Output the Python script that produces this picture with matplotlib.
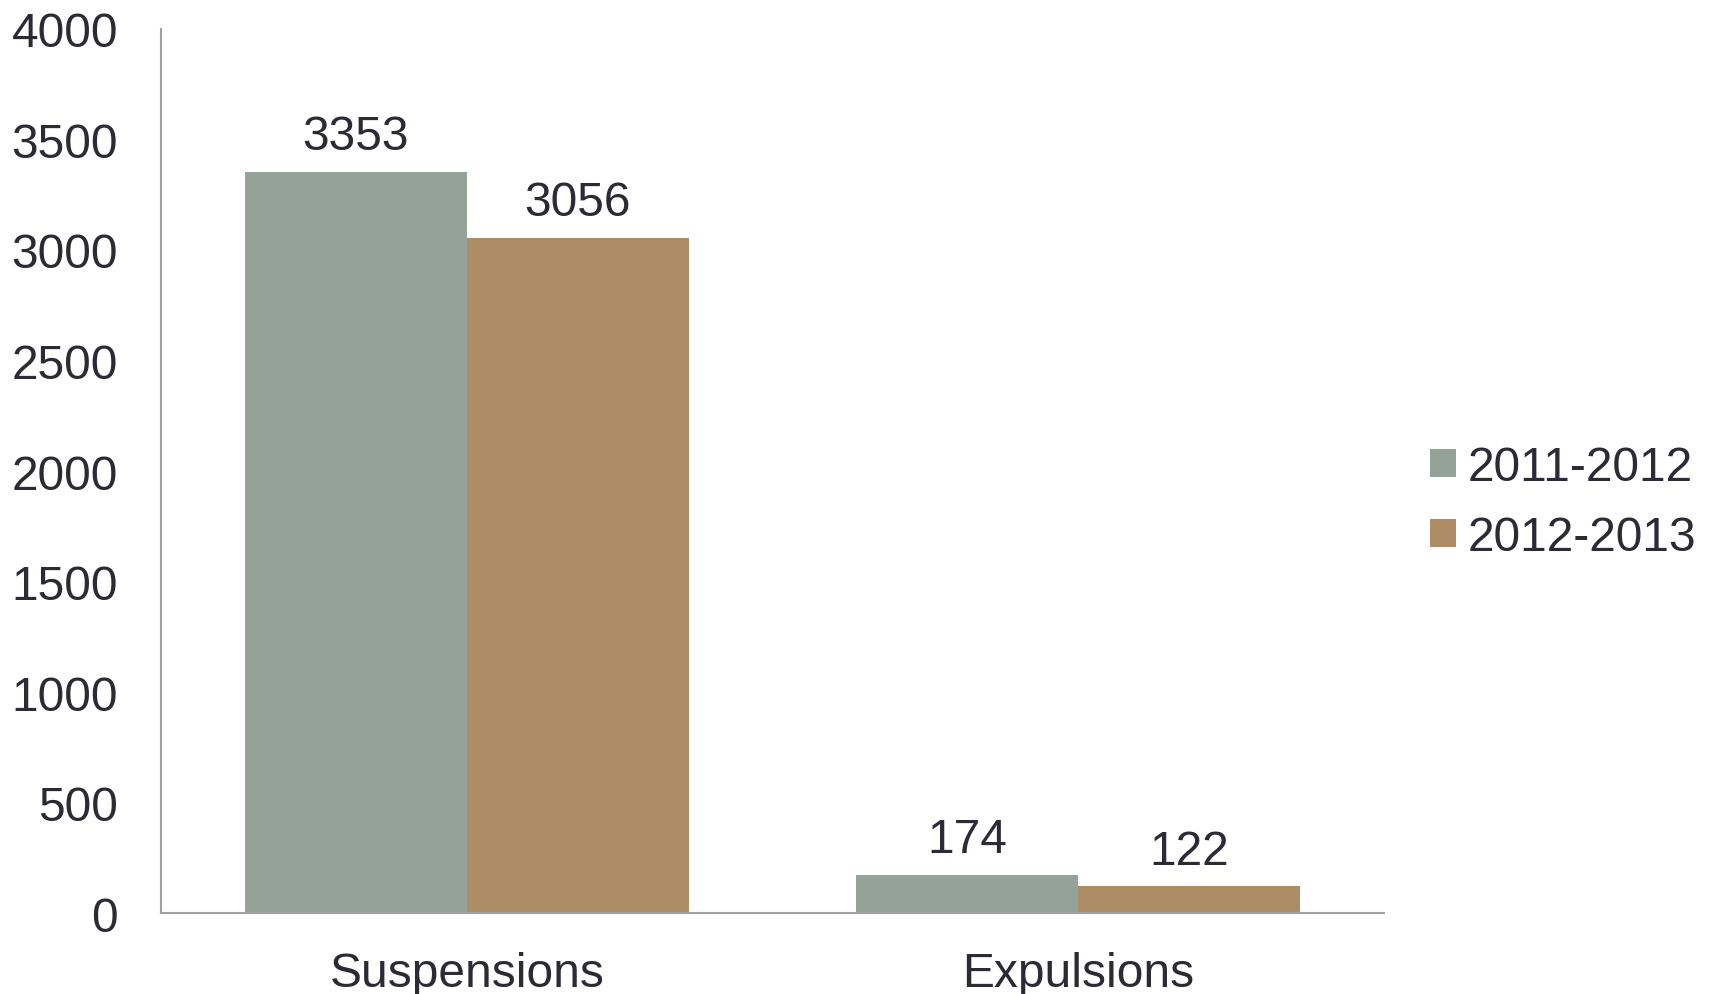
import numpy as np
import matplotlib.pyplot as plt

plt.rcParams['font.family'] = ['Liberation Sans', 'DejaVu Sans']

categories = ['Suspensions', 'Expulsions']
series_names = ['2011-2012', '2012-2013']
vals_2011 = [3353, 174]
vals_2012 = [3056, 122]
yticks = [0, 500, 1000, 1500, 2000, 2500, 3000, 3500, 4000]

green = '#93a39a'
brown = '#ac8d66'
txt = '#2b2b35'
axcol = '#a0a0a0'
fs = 34.5

fig = plt.figure(figsize=(17.15, 9.95), dpi=100)
ax = fig.add_axes([0.0939, 0.081, 0.7131, 0.889])

x = np.arange(len(categories))
w = 0.363
b1 = ax.bar(x - w/2, vals_2011, w, color=green, label=series_names[0])
b2 = ax.bar(x + w/2, vals_2012, w, color=brown, label=series_names[1])

for bars, vals in [(b1, vals_2011), (b2, vals_2012)]:
    for r, v in zip(bars, vals):
        ax.annotate(str(v), (r.get_x() + r.get_width()/2, v), xytext=(0, 9),
                    textcoords='offset points', ha='center', va='bottom',
                    fontsize=fs, color=txt)

ax.set_xlim(-0.5, 1.5)
ax.set_ylim(0, 4000)
ax.set_yticks(yticks)
ax.set_xticks(x)
ax.set_xticklabels(categories)
ax.tick_params(axis='y', length=0, pad=31, labelsize=fs, labelcolor=txt)
ax.tick_params(axis='x', length=0, pad=27, labelsize=fs, labelcolor=txt)

for s in ['top', 'right']:
    ax.spines[s].set_visible(False)
for s in ['left', 'bottom']:
    ax.spines[s].set_color(axcol)
    ax.spines[s].set_linewidth(1.5)

leg = fig.legend(loc='center left', bbox_to_anchor=(0.834, 0.494), frameon=False,
                 fontsize=fs, handlelength=0.53, handleheight=0.53,
                 handletextpad=0.25, labelspacing=0.52, borderpad=0, borderaxespad=0)
for t in leg.get_texts():
    t.set_color(txt)

fig.savefig('out.png', dpi=100)
